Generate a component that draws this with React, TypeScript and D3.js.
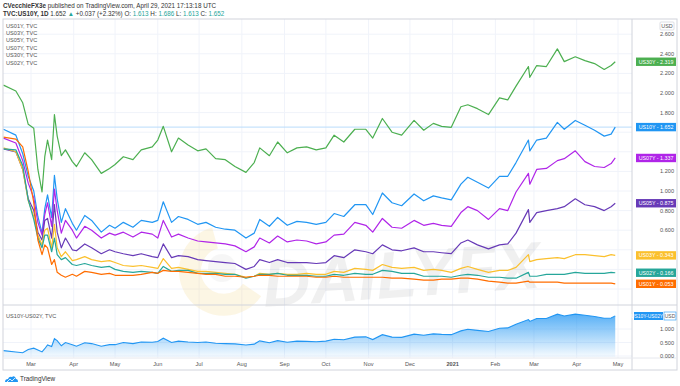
import * as d3 from "d3";
import React from "react";

// trading dates (roughly weekly, plus the March 2020 swings)
const dates = [
  "2020-02-10", "2020-02-19", "2020-02-24", "2020-02-28", "2020-03-03", "2020-03-06", "2020-03-09", "2020-03-11",
  "2020-03-13", "2020-03-16", "2020-03-18", "2020-03-20", "2020-03-23", "2020-03-26", "2020-03-31", "2020-04-03",
  "2020-04-09", "2020-04-14", "2020-04-21", "2020-04-27", "2020-05-01", "2020-05-07", "2020-05-14", "2020-05-20",
  "2020-05-28", "2020-06-01", "2020-06-05", "2020-06-11", "2020-06-16", "2020-06-23", "2020-06-30", "2020-07-06",
  "2020-07-13", "2020-07-20", "2020-07-27", "2020-08-04", "2020-08-10", "2020-08-14", "2020-08-21", "2020-08-27",
  "2020-09-03", "2020-09-10", "2020-09-17", "2020-09-24", "2020-10-01", "2020-10-07", "2020-10-14", "2020-10-22",
  "2020-10-30", "2020-11-04", "2020-11-11", "2020-11-18", "2020-11-25", "2020-12-04", "2020-12-11", "2020-12-18",
  "2020-12-24", "2020-12-31", "2021-01-07", "2021-01-12", "2021-01-19", "2021-01-27", "2021-02-04", "2021-02-10",
  "2021-02-16", "2021-02-25", "2021-02-26", "2021-03-03", "2021-03-10", "2021-03-18", "2021-03-23", "2021-03-31",
  "2021-04-07", "2021-04-14", "2021-04-21", "2021-04-26", "2021-04-29",
];

const us30y = [
  2.08, 2.02, 1.9, 1.68, 1.64, 1.22, 0.99, 1.35, 1.52, 1.32, 1.78, 1.56, 1.36, 1.42, 1.3, 1.25,
  1.39, 1.32, 1.18, 1.23, 1.27, 1.35, 1.32, 1.42, 1.45, 1.52, 1.66, 1.4, 1.54, 1.47, 1.41, 1.43,
  1.33, 1.32, 1.25, 1.19, 1.29, 1.44, 1.36, 1.5, 1.39, 1.44, 1.45, 1.42, 1.44, 1.57, 1.5, 1.63,
  1.63, 1.54, 1.74, 1.6, 1.57, 1.72, 1.62, 1.69, 1.66, 1.65, 1.86, 1.88, 1.84, 1.78, 1.95, 1.93,
  2.07, 2.27, 2.16, 2.28, 2.27, 2.45, 2.32, 2.37, 2.33, 2.3, 2.24, 2.28, 2.319,
];
const us10y = [
  1.63, 1.57, 1.38, 1.15, 1.0, 0.74, 0.57, 0.82, 0.96, 0.73, 1.16, 0.92, 0.68, 0.82, 0.67, 0.6,
  0.75, 0.7, 0.58, 0.65, 0.62, 0.68, 0.63, 0.7, 0.68, 0.7, 0.89, 0.68, 0.74, 0.71, 0.66, 0.68,
  0.63, 0.61, 0.6, 0.52, 0.57, 0.71, 0.64, 0.73, 0.65, 0.69, 0.68, 0.66, 0.68, 0.77, 0.74, 0.86,
  0.86, 0.76, 0.98, 0.88, 0.85, 0.97, 0.9, 0.95, 0.93, 0.91, 1.07, 1.14, 1.09, 1.03, 1.15, 1.15,
  1.29, 1.52, 1.41, 1.52, 1.54, 1.7, 1.63, 1.72, 1.67, 1.62, 1.56, 1.58, 1.652,
];
const us07y = [
  1.54, 1.49, 1.31, 1.08, 0.93, 0.68, 0.55, 0.76, 0.88, 0.64, 1.02, 0.8, 0.57, 0.7, 0.6, 0.52,
  0.64, 0.6, 0.52, 0.57, 0.55, 0.58, 0.53, 0.58, 0.56, 0.52, 0.7, 0.53, 0.56, 0.52, 0.49, 0.48,
  0.47, 0.46, 0.44, 0.38, 0.43, 0.52, 0.47, 0.54, 0.48, 0.5, 0.49, 0.46, 0.48, 0.55, 0.56, 0.68,
  0.65, 0.58, 0.72, 0.63, 0.62, 0.7, 0.65, 0.67, 0.65, 0.64, 0.78, 0.84, 0.8, 0.71, 0.82, 0.8,
  0.99, 1.18, 1.07, 1.22, 1.23, 1.31, 1.33, 1.41, 1.3, 1.25, 1.24, 1.28, 1.337,
];
const us05y = [
  1.43, 1.4, 1.22, 0.92, 0.8, 0.58, 0.5, 0.7, 0.72, 0.52, 0.86, 0.58, 0.42, 0.52, 0.4, 0.39,
  0.46, 0.42, 0.36, 0.4, 0.38, 0.36, 0.34, 0.36, 0.33, 0.32, 0.46, 0.32, 0.34, 0.33, 0.3, 0.29,
  0.28, 0.27, 0.26, 0.2, 0.23, 0.3, 0.27, 0.3, 0.27, 0.27, 0.27, 0.26, 0.27, 0.34, 0.32, 0.4,
  0.38, 0.36, 0.45, 0.4, 0.39, 0.42, 0.38, 0.38, 0.37, 0.36, 0.47, 0.5, 0.45, 0.41, 0.45, 0.46,
  0.57, 0.81, 0.68, 0.78, 0.8, 0.82, 0.84, 0.92, 0.86, 0.84, 0.8, 0.84, 0.875,
];
const us03y = [
  1.44, 1.4, 1.22, 0.9, 0.74, 0.55, 0.45, 0.6, 0.62, 0.42, 0.66, 0.42, 0.33, 0.38, 0.29, 0.3,
  0.33, 0.3, 0.28, 0.29, 0.27, 0.24, 0.23, 0.24, 0.22, 0.21, 0.31, 0.21, 0.22, 0.2, 0.18, 0.18,
  0.17, 0.16, 0.15, 0.12, 0.13, 0.16, 0.15, 0.16, 0.15, 0.15, 0.16, 0.15, 0.15, 0.18, 0.17, 0.21,
  0.2, 0.19, 0.25, 0.22, 0.21, 0.22, 0.19, 0.2, 0.19, 0.17, 0.21, 0.23, 0.2, 0.17, 0.19, 0.19,
  0.22, 0.35, 0.28, 0.3, 0.31, 0.32, 0.31, 0.35, 0.35, 0.34, 0.33, 0.35, 0.343,
];
const us02y = [
  1.43, 1.42, 1.26, 0.91, 0.71, 0.52, 0.42, 0.55, 0.55, 0.38, 0.52, 0.35, 0.3, 0.32, 0.25, 0.24,
  0.26, 0.24, 0.22, 0.23, 0.2, 0.18, 0.17, 0.18, 0.17, 0.16, 0.23, 0.18, 0.19, 0.19, 0.16, 0.16,
  0.16, 0.15, 0.15, 0.11, 0.13, 0.15, 0.15, 0.16, 0.14, 0.14, 0.14, 0.13, 0.13, 0.15, 0.14, 0.16,
  0.15, 0.15, 0.19, 0.18, 0.16, 0.16, 0.13, 0.13, 0.13, 0.12, 0.14, 0.15, 0.14, 0.12, 0.12, 0.11,
  0.11, 0.17, 0.13, 0.13, 0.15, 0.15, 0.15, 0.17, 0.16, 0.16, 0.16, 0.17, 0.166,
];
const us01y = [
  1.55, 1.53, 1.45, 1.2, 0.88, 0.5, 0.35, 0.45, 0.42, 0.25, 0.3, 0.17, 0.14, 0.12, 0.15, 0.13,
  0.18, 0.17, 0.15, 0.16, 0.14, 0.14, 0.14, 0.15, 0.17, 0.16, 0.19, 0.18, 0.18, 0.17, 0.16, 0.15,
  0.15, 0.13, 0.13, 0.12, 0.13, 0.14, 0.14, 0.13, 0.13, 0.13, 0.13, 0.12, 0.12, 0.13, 0.12, 0.12,
  0.12, 0.12, 0.12, 0.11, 0.11, 0.1, 0.09, 0.09, 0.1, 0.1, 0.11, 0.11, 0.1, 0.08, 0.07, 0.06,
  0.06, 0.08, 0.07, 0.07, 0.07, 0.07, 0.06, 0.06, 0.06, 0.06, 0.06, 0.06, 0.053,
];

const legendNames = ["US01Y, TVC", "US03Y, TVC", "US05Y, TVC", "US07Y, TVC", "US30Y, TVC", "US02Y, TVC"];
const priceTicks = [0, 0.2, 0.4, 0.6, 0.8, 1.0, 1.2, 1.4, 1.6, 1.8, 2.0, 2.2, 2.4, 2.6];
const spreadTicks = [0, 0.5, 1.0];
const monthTicks = [
  "2020-03-01", "2020-04-01", "2020-05-01", "2020-06-01", "2020-07-01", "2020-08-01", "2020-09-01", "2020-10-01",
  "2020-11-01", "2020-12-01", "2021-01-01", "2021-02-01", "2021-03-01", "2021-04-01", "2021-05-01",
];

const series = [
  { name: "US30Y", values: us30y, color: "#4caf50" },
  { name: "US10Y", values: us10y, color: "#2196f3" },
  { name: "US07Y", values: us07y, color: "#b025e8" },
  { name: "US05Y", values: us05y, color: "#673ab7" },
  { name: "US03Y", values: us03y, color: "#fbc02d" },
  { name: "US02Y", values: us02y, color: "#26a69a" },
  { name: "US01Y", values: us01y, color: "#ff6d00" },
];

const FONT = "'Liberation Sans', Arial, sans-serif";
const parse = d3.timeParse("%Y-%m-%d");

export default function App() {
  const left = 3, right = 632, axisRight = 677;
  const top = 19, mainBottom = 305, lowBottom = 358, bottom = 370;

  const x = d3.scaleTime()
    .domain([parse("2020-03-01")!, parse("2021-05-01")!])
    .range([31, 618]);
  const y = d3.scaleLinear().domain([0, 2.6]).range([289, 34.2]);
  const y2 = d3.scaleLinear().domain([0, 1]).range([356, 329]);

  const dts = dates.map((d) => parse(d)!);
  const line = d3.line<number>()
    .x((_, i) => x(dts[i]))
    .y((v) => y(v));

  const spread = us10y.map((v, i) => v - us02y[i]);
  const spreadLine = d3.line<number>().x((_, i) => x(dts[i])).y((v) => y2(v));
  const spreadArea = d3.area<number>().x((_, i) => x(dts[i])).y0(y2(0) + 1).y1((v) => y2(v));

  // right-side value labels, shifted slightly when they would overlap
  const labels = series.map((s) => {
    const v = s.values[s.values.length - 1];
    return { ...s, v, cy: y(v) };
  }).sort((a, b) => a.cy - b.cy);
  for (let i = 1; i < labels.length; i++) {
    if (labels[i].cy - labels[i - 1].cy < 9) labels[i].cy = labels[i - 1].cy + 9;
  }
  // tick labels hidden under a value label are not drawn
  const visibleTicks = priceTicks.filter((t) => labels.every((l) => Math.abs(l.cy - y(t)) > 6.5));

  const fmt = d3.format(".3f");
  const teal = "#26a69a";

  return (
    <div style={{ position: "absolute", left: 0, top: 0 }}>
      <svg width={680} height={386} style={{ display: "block", background: "#fff" }} fontFamily={FONT}>
        <defs>
          <linearGradient id="spreadFill" x1="0" y1="0" x2="0" y2="1">
            <stop offset="0%" stopColor="#2196f3" stopOpacity={0.75} />
            <stop offset="100%" stopColor="#2196f3" stopOpacity={0.04} />
          </linearGradient>
          <clipPath id="mainClip">
            <rect x={left} y={top} width={right - left} height={mainBottom - top} />
          </clipPath>
        </defs>

        {/* header */}
        <text x={3} y={8} fontSize={6.3} fill="#333">
          <tspan fontWeight="bold">CVecchieFX3e</tspan>
          <tspan> published on TradingView.com, April 29, 2021 17:13:18 UTC</tspan>
        </text>
        <text x={3} y={16} fontSize={6.3} fill="#333">
          <tspan fontWeight="bold">TVC:US10Y, 1D</tspan>
          <tspan> 1.652 </tspan>
          <tspan fill={teal}>▲</tspan>
          <tspan> +0.037 (+2.32%) O: </tspan>
          <tspan fill={teal}>1.613</tspan>
          <tspan> H: </tspan>
          <tspan fill={teal}>1.686</tspan>
          <tspan> L: </tspan>
          <tspan fill={teal}>1.613</tspan>
          <tspan> C: </tspan>
          <tspan fill={teal}>1.652</tspan>
        </text>

        {/* grid */}
        {priceTicks.map((t) => (
          <line key={"h" + t} x1={left} x2={right} y1={y(t)} y2={y(t)} stroke="#f0f3fa" strokeWidth={1} />
        ))}
        {monthTicks.map((m) => {
          const xx = x(parse(m)!);
          return (
            <g key={"v" + m}>
              <line x1={xx} x2={xx} y1={top} y2={mainBottom} stroke="#f0f3fa" strokeWidth={1} />
              <line x1={xx} x2={xx} y1={mainBottom} y2={lowBottom} stroke="#f0f3fa" strokeWidth={1} />
            </g>
          );
        })}
        {spreadTicks.map((t) => (
          <line key={"s" + t} x1={left} x2={right} y1={y2(t)} y2={y2(t)} stroke="#f0f3fa" strokeWidth={1} />
        ))}

        {/* watermark */}
        <g opacity={0.42}>
          <path d="M 215 238 A 34 34 0 1 0 252 290" fill="none" stroke="#f6d98a" strokeWidth={22} opacity={0.55} />
          <circle cx={222} cy={268} r={14} fill="#d9d9d9" opacity={0.5} />
        </g>
        <text x={262} y={300} fontSize={66} fontWeight="bold" fontStyle="italic" fill="#000" opacity={0.055}
          transform="rotate(-4 360 270)">DAILYFX</text>

        {/* last price line for the main symbol */}
        <line x1={left} x2={right} y1={y(1.652)} y2={y(1.652)} stroke="#b9dcfb" strokeWidth={1} />

        {/* yield curves */}
        <g clipPath="url(#mainClip)">
          {series.map((s) => (
            <path key={s.name} d={line(s.values) ?? ""} fill="none" stroke={s.color} strokeWidth={1.2}
              strokeLinejoin="round" />
          ))}
        </g>

        {/* legend */}
        {legendNames.map((n, i) => (
          <text key={n} x={6} y={27.5 + i * 7.4} fontSize={5.6} fill="#555">{n}</text>
        ))}

        {/* spread pane */}
        <path d={spreadArea(spread) ?? ""} fill="url(#spreadFill)" />
        <path d={spreadLine(spread) ?? ""} fill="none" stroke="#2196f3" strokeWidth={1.1} />
        <text x={6} y={318} fontSize={5.6} fill="#555">US10Y-US02Y, TVC</text>

        {/* borders */}
        <rect x={left} y={top} width={axisRight - left} height={bottom - top} fill="none" stroke="#d1d4dc" strokeWidth={1} />
        <line x1={right} x2={right} y1={top} y2={bottom} stroke="#d1d4dc" strokeWidth={1} />
        <line x1={left} x2={axisRight} y1={mainBottom} y2={mainBottom} stroke="#d1d4dc" strokeWidth={1} />
        <line x1={left} x2={axisRight} y1={lowBottom} y2={lowBottom} stroke="#e6e8ee" strokeWidth={1} />

        {/* price axis */}
        {visibleTicks.map((t) => (
          <text key={"pt" + t} x={674} y={y(t) + 2} fontSize={5.6} fill="#555" textAnchor="end">{fmt(t)}</text>
        ))}
        <rect x={660} y={22} width={14} height={8} fill="#fff" stroke="#c8cbd3" strokeWidth={0.6} rx={1} />
        <text x={667} y={28} fontSize={5.4} fill="#555" textAnchor="middle">USD</text>

        {labels.map((l) => (
          <g key={"lb" + l.name}>
            <rect x={636} y={l.cy - 4.2} width={40} height={8.4} fill={l.color} />
            <text x={656} y={l.cy + 2} fontSize={5.3} fill="#fff" textAnchor="middle">
              {`${l.name} - ${fmt(l.v)}`}
            </text>
          </g>
        ))}

        {/* spread axis */}
        {spreadTicks.map((t) => (
          <text key={"st" + t} x={674} y={y2(t) + 2} fontSize={5.6} fill="#555" textAnchor="end">{fmt(t)}</text>
        ))}
        <rect x={634} y={312} width={29} height={8} fill="#2196f3" />
        <text x={648.5} y={318} fontSize={4.9} fill="#fff" textAnchor="middle">US10Y-US02Y -</text>
        <rect x={664} y={312} width={12} height={8} fill="#fff" stroke="#2196f3" strokeWidth={0.6} />
        <text x={670} y={318} fontSize={5} fill="#555" textAnchor="middle">USD</text>

        {/* time axis */}
        {monthTicks.map((m) => {
          const d = parse(m)!;
          const isYear = d.getMonth() === 0;
          return (
            <text key={"tl" + m} x={x(d)} y={366} fontSize={5.6} fill="#555" textAnchor="middle"
              fontWeight={isYear ? "bold" : "normal"}>
              {isYear ? d3.timeFormat("%Y")(d) : d3.timeFormat("%b")(d)}
            </text>
          );
        })}

        {/* footer logo */}
        <g transform="translate(4 374)">
          <path d="M1 8 Q1 5 4 5 Q5 2 8 3 Q11 1 12 5 Q14 5 14 8 Z" fill="#2196f3" />
          <path d="M3 8 L6 5 L8 7 L11 4" fill="none" stroke="#fff" strokeWidth={0.8} />
        </g>
        <text x={20} y={381} fontSize={6.4} fill="#333">TradingView</text>
      </svg>
    </div>
  );
}
